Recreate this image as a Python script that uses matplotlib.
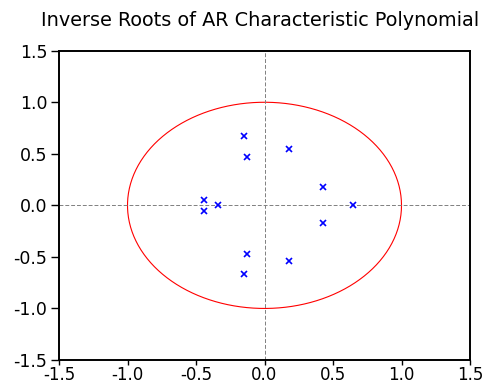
import matplotlib
matplotlib.use('Agg')
import matplotlib.pyplot as plt
import numpy as np

# inverse roots of the AR polynomial (real, imaginary)
root_re = [-0.153, -0.153, -0.128, -0.128, 0.178, 0.178,
           0.426, 0.426, -0.440, -0.440, -0.343, 0.645]
root_im = [0.668, -0.668, 0.469, -0.469, 0.544, -0.544,
           0.175, -0.175, 0.052, -0.052, 0.0, 0.0]
ticks = [-1.5, -1.0, -0.5, 0.0, 0.5, 1.0, 1.5]
tick_labels = ['%.1f' % t for t in ticks]
title = 'Inverse Roots of AR Characteristic Polynomial'

plt.rcParams['font.family'] = ['DejaVu Sans']

fig = plt.figure(figsize=(4.86, 3.86), dpi=100)
W, H = 486, 386
ax = fig.add_axes([59/W, 1-360/H, (470-59)/W, (360-50.7)/H])

# unit circle
t = np.linspace(0, 2*np.pi, 400)
ax.plot(np.cos(t), np.sin(t), color='red', lw=0.8)

# zero lines
ax.axhline(0, color='gray', lw=0.7, ls=(0, (4, 2)))
ax.axvline(0, color='gray', lw=0.7, ls=(0, (4, 2)))

ax.plot(root_re, root_im, ls='none', marker='x', color='blue', ms=4, mew=1.2)

ax.set_xlim(-1.5, 1.5)
ax.set_ylim(-1.5, 1.5)
ax.set_xticks(ticks)
ax.set_xticklabels(tick_labels)
ax.set_yticks(ticks)
ax.set_yticklabels(tick_labels)
ax.tick_params(direction='out', width=1.0, top=False, right=False)
ax.tick_params(axis='x', length=3.5, pad=1.0, labelsize=12)
ax.tick_params(axis='y', length=5.5, pad=3, labelsize=12.5)
for s in ax.spines.values():
    s.set_linewidth(1.4)

# title starts near the left edge; shrink until it fits the figure width
ttl = fig.text(41/W, 1-20/H, title, ha='left', va='center', fontsize=14.2)
r = fig.canvas.get_renderer()
while ttl.get_window_extent(r).x1 > W - 2:
    ttl.set_fontsize(ttl.get_fontsize() - 0.1)

fig.savefig('out.png', dpi=100)
